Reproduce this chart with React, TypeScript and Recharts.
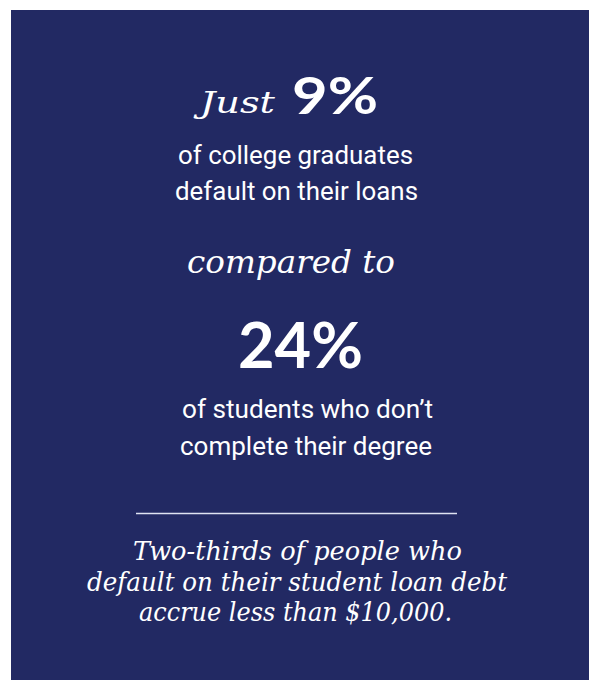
import React from 'react'
import { Surface, Layer } from 'recharts'

// headline figures
const statValues = [9, 24]
const statLeads = ['Just', 'compared to']
const statLines = [
  ['of college graduates', 'default on their loans'],
  ['of students who don\u2019t', 'complete their degree'],
]
const footnote = [
  'Two-thirds of people who',
  'default on their student loan debt',
  'accrue less than $10,000.',
]

const W = 589
const H = 680
const NAVY = '#222963'

const sans = 'Roboto, "Noto Sans", sans-serif'
const bold = 'Lato, "Open Sans", sans-serif'
const slab = '"DejaVu Serif", serif'

// x, baseline, width of each body line
const bodyPos = [
  [178, 164, 235],
  [175, 200, 243],
  [182, 418, 251],
  [180, 455, 252],
]
const notePos = [
  [133, 560, 329],
  [87, 590.5, 420],
  [139, 621, 313],
]

const App = () => {
  const body = statLines.flat()
  return (
    <div style={{ position: 'absolute', left: 0, top: 0, width: W, height: H }}>
      <Surface width={W} height={H}>
        <rect x={0} y={0} width={W} height={H} fill="#ffffff" />
        <rect x={11} y={10} width={W - 11} height={H - 10} fill={NAVY} />
        <Layer>
          <text x={200} y={113} fill="#fff" fontFamily={slab} fontStyle="italic" fontSize={30} textLength={75} lengthAdjust="spacingAndGlyphs">
            {statLeads[0]}
          </text>
          <text x={292} y={114} fill="#fff" fontFamily={bold} fontWeight={700} fontSize={52} textLength={86} lengthAdjust="spacingAndGlyphs">
            {statValues[0]}%
          </text>
          <text x={187} y={273} fill="#fff" fontFamily={slab} fontStyle="italic" fontSize={31} textLength={208} lengthAdjust="spacingAndGlyphs">
            {statLeads[1]}
          </text>
          <text x={238} y={368} fill="#fff" fontFamily={bold} fontWeight={700} fontSize={64} textLength={125} lengthAdjust="spacingAndGlyphs">
            {statValues[1]}%
          </text>
          {body.map((t, i) => (
            <text key={t} x={bodyPos[i][0]} y={bodyPos[i][1]} fill="#fff" fontFamily={sans} fontSize={25} textLength={bodyPos[i][2]} lengthAdjust="spacingAndGlyphs">
              {t}
            </text>
          ))}
          <line x1={136} x2={457} y1={513.5} y2={513.5} stroke="#dfe3f2" strokeWidth={1.5} />
          {footnote.map((t, i) => (
            <text key={t} x={notePos[i][0]} y={notePos[i][1]} fill="#fff" fontFamily={slab} fontStyle="italic" fontSize={26} textLength={notePos[i][2]} lengthAdjust="spacingAndGlyphs">
              {t}
            </text>
          ))}
        </Layer>
      </Surface>
    </div>
  )
}

export default App
